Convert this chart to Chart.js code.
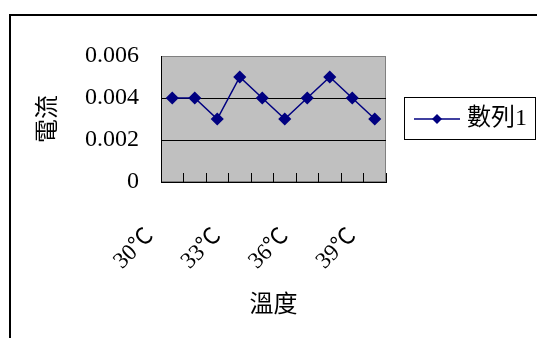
<!DOCTYPE html>
<html>
<head>
<meta charset="utf-8">
<script src="https://cdn.jsdelivr.net/npm/chart.js@4.4.1/dist/chart.umd.min.js"></script>
<style>
  body { margin: 0; background: #fff; }
  canvas { display: block; }
</style>
</head>
<body>
<canvas id="chart" width="537" height="338"></canvas>
<script>
// temperature categories and measured current
const categories = ['30℃', '31℃', '32℃', '33℃', '34℃', '35℃', '36℃', '37℃', '38℃', '39℃'];
const currentValues = [0.004, 0.004, 0.003, 0.005, 0.004, 0.003, 0.004, 0.005, 0.004, 0.003];
const seriesName = '數列1';
const yTicks = [0, 0.002, 0.004, 0.006];

const navy = '#000080';
const serif = "'Liberation Serif', 'Noto Sans CJK TC', serif";

// legend marker: short line with a diamond in the middle
const legendMark = document.createElement('canvas');
legendMark.width = 46;
legendMark.height = 12;
(function () {
  const c = legendMark.getContext('2d');
  c.strokeStyle = navy;
  c.fillStyle = navy;
  c.lineWidth = 1.5;
  c.beginPath();
  c.moveTo(0, 6);
  c.lineTo(46, 6);
  c.stroke();
  c.beginPath();
  c.moveTo(23, 1);
  c.lineTo(28, 6);
  c.lineTo(23, 11);
  c.lineTo(18, 6);
  c.closePath();
  c.fill();
})();

const frames = {
  id: 'frames',
  beforeDraw(chart) {
    const {ctx, chartArea: a} = chart;
    ctx.save();
    ctx.strokeStyle = '#000';
    ctx.lineWidth = 2;
    ctx.strokeRect(10, 15, 600, 400);
    ctx.fillStyle = '#c0c0c0';
    ctx.fillRect(a.left, a.top, a.right - a.left, a.bottom - a.top);
    ctx.strokeStyle = '#808080';
    ctx.lineWidth = 1;
    ctx.strokeRect(a.left + 0.5, a.top + 0.5, a.right - a.left - 1, a.bottom - a.top - 1);
    ctx.restore();
  },
  afterDraw(chart) {
    const lg = chart.legend;
    const hb = lg.legendHitBoxes[0];
    if (!hb) return;
    const cy = hb.top + hb.height / 2;
    const ctx = chart.ctx;
    ctx.save();
    ctx.strokeStyle = '#000';
    ctx.lineWidth = 1;
    ctx.strokeRect(lg.left + 18.5, cy - 21.5, lg.right - lg.left - 20, 42);
    ctx.restore();
  }
};

new Chart(document.getElementById('chart'), {
  type: 'line',
  data: {
    labels: categories,
    datasets: [{
      label: seriesName,
      data: currentValues,
      borderColor: navy,
      backgroundColor: navy,
      borderWidth: 1.5,
      pointStyle: 'rectRot',
      pointRadius: 5.5,
      pointBackgroundColor: navy,
      pointBorderColor: navy,
      tension: 0,
      fill: false
    }]
  },
  options: {
    responsive: false,
    animation: false,
    layout: { padding: { left: 10, top: 56, right: 0, bottom: 10 } },
    scales: {
      x: {
        offset: true,
        afterFit: scale => { scale.height = 146; },
        grid: {
          offset: true,
          drawOnChartArea: false,
          color: '#000',
          tickLength: -9
        },
        border: { color: '#000', width: 1 },
        ticks: {
          autoSkip: false,
          minRotation: 45,
          maxRotation: 45,
          labelOffset: -22,
          padding: 50,
          color: '#000',
          font: { family: serif, size: 23 },
          callback: (v, i) => (i % 3 === 0 ? categories[i] : '')
        },
        title: {
          display: true,
          text: '溫度',
          color: '#000',
          font: { family: serif, size: 24 },
          padding: { top: 0, bottom: 8 }
        }
      },
      y: {
        min: yTicks[0],
        max: yTicks[yTicks.length - 1],
        afterFit: scale => { scale.width = 151; },
        afterBuildTicks: scale => { scale.ticks = yTicks.map(v => ({ value: v })); },
        grid: {
          drawTicks: false,
          color: ctx => (ctx.index === yTicks.length - 1 ? '#808080' : '#000')
        },
        border: { color: '#000', width: 1 },
        ticks: {
          padding: 22,
          color: '#000',
          font: { family: serif, size: 24 },
          callback: v => (v === 0 ? '0' : v.toFixed(3))
        },
        title: {
          display: true,
          text: '電流',
          color: '#000',
          font: { family: serif, size: 24 },
          padding: { top: 24, bottom: 0 }
        }
      }
    },
    plugins: {
      legend: {
        position: 'right',
        fullSize: false,
        maxWidth: 152,
        labels: {
          usePointStyle: true,
          pointStyle: legendMark,
          pointStyleWidth: 36,
          padding: 33,
          color: '#000',
          font: { family: serif, size: 24 }
        }
      },
      tooltip: { enabled: false }
    }
  },
  plugins: [frames]
});
</script>
</body>
</html>
